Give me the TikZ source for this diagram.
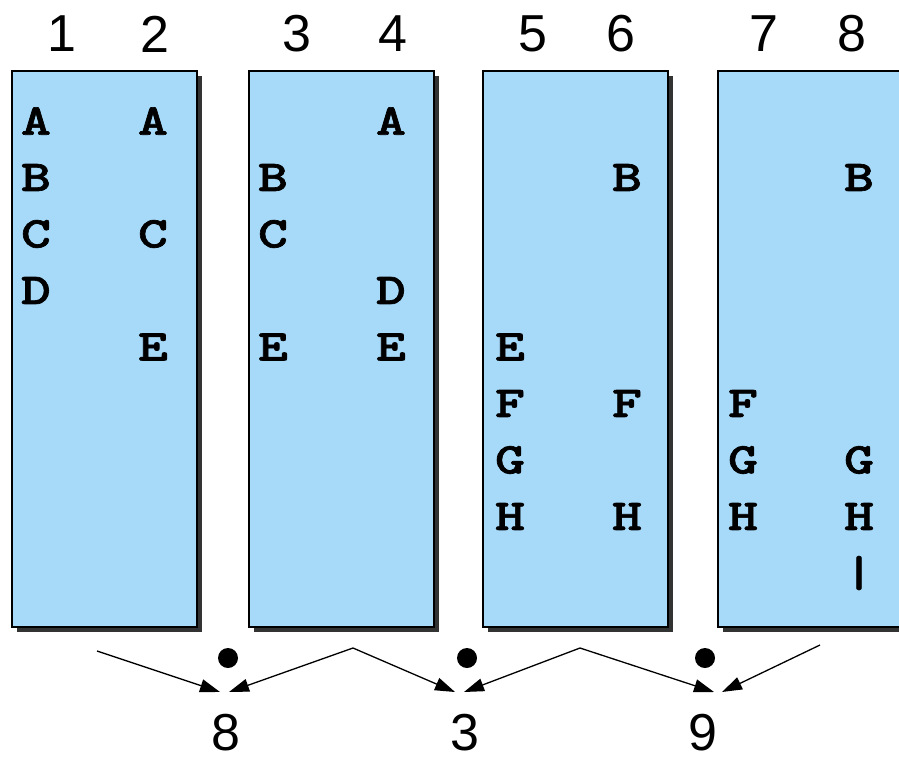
\documentclass[tikz,border=0pt]{standalone}
\usepackage{fontspec}
\newfontfamily\helv{Liberation Sans}
\newfontfamily\slotfont{lmmonolt10-bold.otf}[FakeStretch=1.3, FakeBold=1.5]
\usetikzlibrary{arrows.meta}
\usetikzlibrary{shadows}
\definecolor{panelblue}{RGB}{167,218,249}
\tikzset{
 block/.style={draw=black, line width=1.5pt, fill=panelblue, minimum width=185pt, minimum height=556pt, inner sep=0,
   drop shadow={shadow xshift=5pt, shadow yshift=-5pt, fill=black!80, opacity=1}},
 slot/.style={inner sep=0, font=\fontsize{44}{44}\selectfont\slotfont},
 colnum/.style={inner sep=0, font=\fontsize{52}{52}\selectfont\helv},
 link/.style={line width=1.3pt, ->, >={Triangle[length=20pt,width=13pt]}},
}

\begin{document}
\begin{tikzpicture}[x=1pt, y=-1pt]
\useasboundingbox (0,0) rectangle (899,763);
\clip (0,0) rectangle (899,763);
\foreach \i/\x in {1/12, 2/249, 3/483, 4/718}
  \node[block] (blk\i) at (\x+92.5,349) {};
\foreach \c/\x in {1/62, 2/155, 3/297, 4/393, 5/533, 6/621, 7/764, 8/852}
  \node[colnum] (n\c) at (\x,34) {\c};
\foreach \c/\x/\list in {1/36/{A/1,B/2,C/3,D/4}, 2/153/{A/1,C/3,E/5}, 3/273/{B/2,C/3,E/5}, 4/391/{A/1,D/4,E/5},
    5/510/{E/5,F/6,G/7,H/8}, 6/627/{B/2,F/6,H/8}, 7/743/{F/6,G/7,H/8}, 8/859/{B/2,G/7,H/8,|/9}}
  \foreach \r/\k in \list
    \node[slot] (c\c r\k) at (\x,{121+56.5*(\k-1)}) {\r};
\foreach \i/\x/\v in {1/228/8, 2/467/3, 3/705/9} {
  \node[circle, fill=black, inner sep=0, minimum size=20pt] (d\i) at (\x,658) {};
  \node[colnum] (r\i) at (\x-2,733) {\v};
}
\coordinate (s1) at (97,651);
\coordinate (s2) at (353,648);
\coordinate (s3) at (580,648);
\coordinate (s4) at (820,645);
\coordinate (t1) at (220,692);
\coordinate (t2) at (229,692);
\coordinate (t3) at (455,692);
\coordinate (t4) at (464,692);
\coordinate (t5) at (714,692);
\coordinate (t6) at (722,692);
\foreach \a/\b in {s1/t1, s2/t2, s2/t3, s3/t4, s3/t5, s4/t6}
  \draw[link] (\a) -- (\b);
\end{tikzpicture}
\end{document}
